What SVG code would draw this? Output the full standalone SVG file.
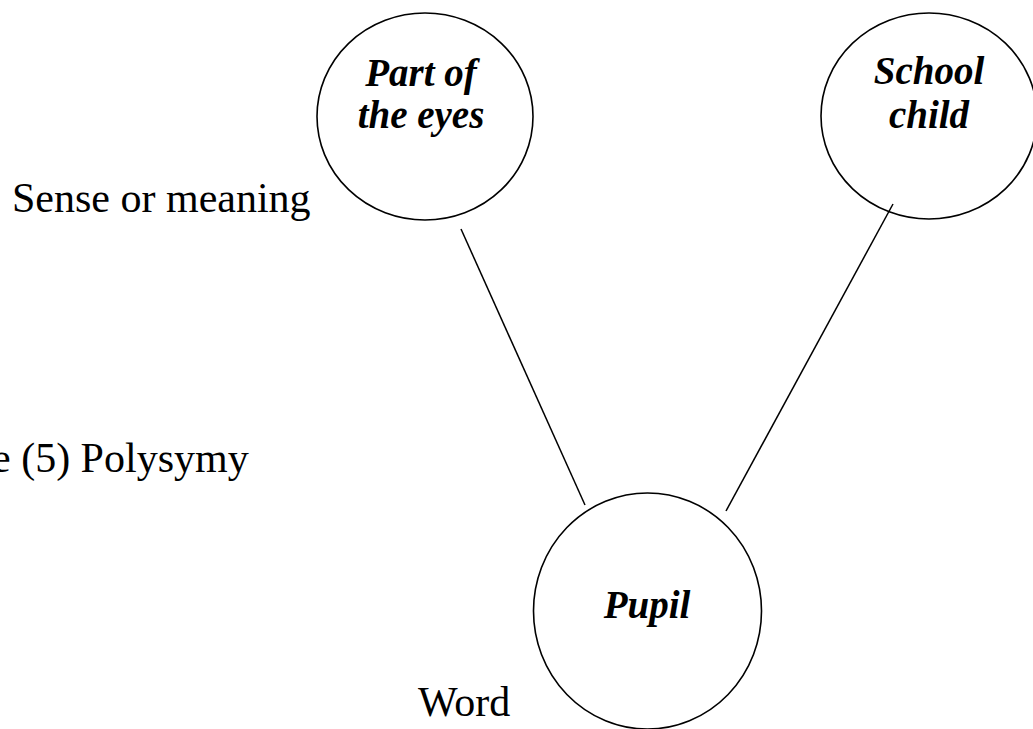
<svg xmlns="http://www.w3.org/2000/svg" width="1033" height="729" viewBox="0 0 1033 729">
<style>
.node{fill:none;stroke:#000;stroke-width:1.6}
.lbl{font-family:"Liberation Serif",serif;font-size:39px;font-weight:bold;font-style:italic;text-anchor:middle;fill:#000}
.txt{font-family:"Liberation Serif",serif;font-size:42px;fill:#000}
.conn{stroke:#000;stroke-width:1.5;fill:none}
</style>
<rect width="1033" height="729" fill="#fff"/>
<g id="connectors">
<line class="conn" x1="461" y1="229" x2="585" y2="505"/>
<line class="conn" x1="893" y1="204" x2="726" y2="511"/>
</g>
<g id="node-part">
<ellipse class="node" cx="425" cy="116.5" rx="108" ry="103.5"/>
<text class="lbl" x="421" y="86">Part of</text>
<text class="lbl" x="421" y="128">the eyes</text>
</g>
<g id="node-school">
<ellipse class="node" cx="929" cy="116" rx="108" ry="103"/>
<text class="lbl" x="929" y="84">School</text>
<text class="lbl" x="929" y="128">child</text>
</g>
<g id="node-pupil">
<ellipse class="node" cx="647.5" cy="611" rx="114" ry="118"/>
<text class="lbl" x="647" y="618">Pupil</text>
</g>
<text class="txt" x="12" y="212">Sense or meaning</text>
<text class="txt" x="-8" y="472">e (5) Polysymy</text>
<text class="txt" x="418" y="716">Word</text>
</svg>
